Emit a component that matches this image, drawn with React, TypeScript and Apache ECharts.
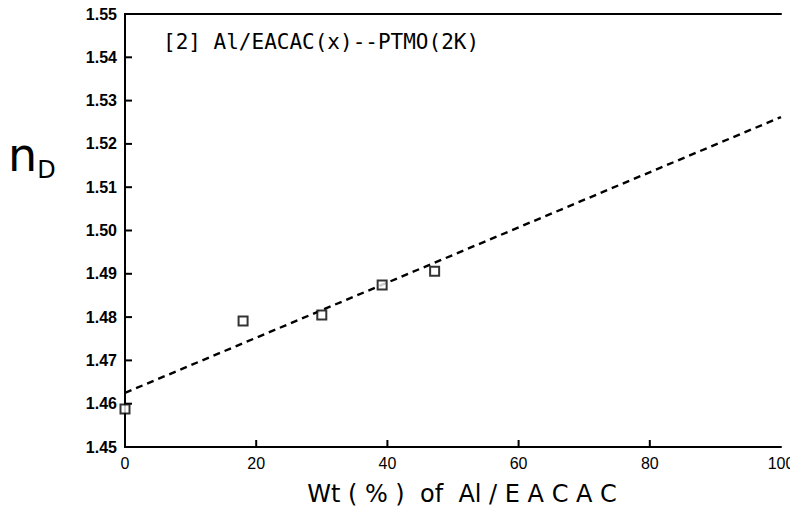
import React, { useEffect, useRef } from "react";
import * as echarts from "echarts";

// Measured refractive index vs. Al/EACAC content
const wtPercent = [0, 18, 30, 39.2, 47.2];
const refractiveIndex = [1.4588, 1.4791, 1.4805, 1.4874, 1.4906];

// Linear fit endpoints
const fitX = [0, 100];
const fitY = [1.4625, 1.5262];

// Tick positions along each axis
const xTicks = [20, 40, 60, 80];
const yTicks = [1.46, 1.47, 1.48, 1.49, 1.5, 1.51, 1.52, 1.53, 1.54];

const titleText = "[2] Al/EACAC(x)--PTMO(2K)";
const xAxisTitle = "Wt ( % )  of  Al / E A C A C";

const X_MIN = 0;
const Y_MIN = 1.45;
const TICK_LEN = 7;

export default function App() {
  const ref = useRef<HTMLDivElement>(null);

  useEffect(() => {
    if (!ref.current) return;
    const chart = echarts.init(ref.current, null, { renderer: "svg" });
    chart.setOption({
      animation: false,
      grid: { left: 125, right: 17, top: 14, bottom: 74 },
      xAxis: [
        {
          type: "value",
          min: 0,
          max: 100,
          interval: 20,
          axisLine: { show: true, lineStyle: { color: "#000", width: 2 } },
          axisTick: { show: false },
          axisLabel: { color: "#000", fontSize: 16 },
          splitLine: { show: false },
        },
        {
          type: "value",
          position: "top",
          min: 0,
          max: 100,
          axisLine: { show: true, lineStyle: { color: "#000", width: 2 } },
          axisTick: { show: false },
          axisLabel: { show: false },
          splitLine: { show: false },
        },
      ],
      yAxis: [
        {
          type: "value",
          min: 1.45,
          max: 1.55,
          interval: 0.01,
          axisLine: { show: true, lineStyle: { color: "#000", width: 2 } },
          axisTick: { show: false },
          axisLabel: {
            color: "#000",
            fontSize: 16,
            fontWeight: "bold",
            formatter: (v: number) => v.toFixed(2),
          },
          splitLine: { show: false },
        },
        {
          type: "value",
          position: "right",
          min: 1.45,
          max: 1.55,
          axisLine: { show: true, lineStyle: { color: "#000", width: 2 } },
          axisTick: { show: false },
          axisLabel: { show: false },
          splitLine: { show: false },
        },
      ],
      series: [
        {
          // inward ticks on the bottom axis
          type: "custom",
          xAxisIndex: 0,
          yAxisIndex: 0,
          data: xTicks.map((v) => [v, Y_MIN]),
          renderItem: (_params: any, api: any) => {
            const p = api.coord([api.value(0), api.value(1)]);
            return {
              type: "line",
              shape: { x1: p[0], y1: p[1], x2: p[0], y2: p[1] - TICK_LEN },
              style: { stroke: "#000", lineWidth: 2 },
            };
          },
          silent: true,
          z: 1,
        },
        {
          // inward ticks on the left axis
          type: "custom",
          xAxisIndex: 0,
          yAxisIndex: 0,
          data: yTicks.map((v) => [X_MIN, v]),
          renderItem: (_params: any, api: any) => {
            const p = api.coord([api.value(0), api.value(1)]);
            return {
              type: "line",
              shape: { x1: p[0], y1: p[1], x2: p[0] + TICK_LEN, y2: p[1] },
              style: { stroke: "#000", lineWidth: 2 },
            };
          },
          silent: true,
          z: 1,
        },
        {
          type: "line",
          data: fitX.map((x, i) => [x, fitY[i]]),
          showSymbol: false,
          symbol: "none",
          lineStyle: { color: "#000", width: 2.4, type: [7, 5] },
          z: 2,
        },
        {
          type: "scatter",
          data: wtPercent.map((x, i) => [x, refractiveIndex[i]]),
          symbol: "rect",
          symbolSize: 9,
          itemStyle: { color: "#fff", borderColor: "#000", borderWidth: 2 },
          z: 3,
        },
      ],
      graphic: [
        {
          type: "text",
          left: 163,
          top: 31,
          style: {
            text: titleText,
            fontSize: 21,
            fontFamily: "DejaVu Sans Mono",
            fill: "#000",
          },
        },
        {
          type: "text",
          left: 8,
          top: 132,
          style: {
            text: "{n|n}{d|D}",
            rich: {
              n: { fontSize: 46, fontFamily: "DejaVu Sans", fill: "#000", verticalAlign: "bottom" },
              d: { fontSize: 24, fontFamily: "DejaVu Sans", fill: "#000", verticalAlign: "bottom", padding: [0, 0, -4, 0] },
            },
          },
        },
        {
          type: "text",
          x: 462,
          y: 494,
          style: {
            text: xAxisTitle,
            fontSize: 24,
            fontFamily: "DejaVu Sans",
            fill: "#000",
            align: "center",
            verticalAlign: "middle",
          },
        },
      ],
    });
    return () => chart.dispose();
  }, []);

  return <div ref={ref} style={{ width: 798, height: 521, margin: -8, background: "#fff" }} />;
}
